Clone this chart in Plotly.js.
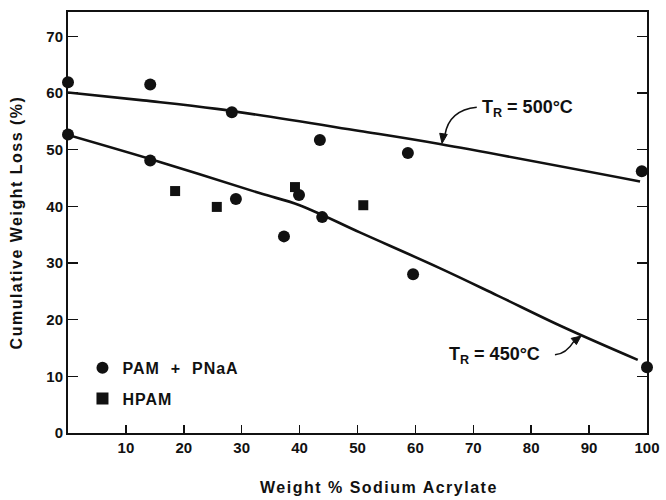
<!DOCTYPE html>
<html><head><meta charset="utf-8">
<script src="https://cdn.plot.ly/plotly-3.0.1.min.js"></script>
<style>html,body{margin:0;padding:0;background:#fff}#c{width:666px;height:500px}
.ytitle{letter-spacing:1.5px}
.legendtext{letter-spacing:1px}
</style>
</head><body><div id="c"></div>
<script>
// PAM + PNaA (circles)
const pamX = [0, 0, 14.2, 14.2, 28.3, 29, 37.3, 39.9, 43.5, 43.9, 58.7, 59.6, 99.1, 100];
const pamY = [61.9, 52.7, 61.5, 48.1, 56.6, 41.3, 34.7, 42.0, 51.7, 38.1, 49.4, 28.0, 46.2, 11.6];
// HPAM (squares)
const hpamX = [18.5, 25.7, 39.2, 51.0];
const hpamY = [42.7, 39.9, 43.4, 40.2];
// Fitted curves
const line500X = [0, 13, 25.7, 50.4, 64.2, 98.8];
const line500Y = [60.1, 58.7, 57.2, 53.3, 51.0, 44.4];
const line450X = [0, 16, 33.2, 40, 50.4, 64.2, 74.1, 85.5, 98.4];
const line450Y = [52.6, 47.8, 42.3, 40.2, 35.4, 29.1, 24.3, 18.7, 12.9];
const xTicks = [10, 20, 30, 40, 50, 60, 70, 80, 90, 100];
const yTicks = [0, 10, 20, 30, 40, 50, 60, 70];
const yRange = [0, 74.3];

const F = "'Liberation Sans', Arial, sans-serif";
const traces = [
  {x: line500X, y: line500Y, yaxis: 'y2', mode: 'lines', line: {color: '#111', width: 2.6, shape: 'spline', smoothing: 1}, showlegend: false, hoverinfo: 'skip'},
  {x: line450X, y: line450Y, yaxis: 'y2', mode: 'lines', line: {color: '#111', width: 2.6, shape: 'spline', smoothing: 1}, showlegend: false, hoverinfo: 'skip'},
  {x: pamX, y: pamY, mode: 'markers', name: 'PAM  +  PNaA', legendgroup: 'a', marker: {symbol: 'circle', size: 12, color: '#111'}, cliponaxis: false},
  {x: hpamX, y: hpamY, mode: 'markers', name: 'HPAM', legendgroup: 'b', marker: {symbol: 'square', size: 10, color: '#111'}, cliponaxis: false}
];
const layout = {
  width: 666, height: 500,
  margin: {l: 68, r: 19, t: 12, b: 67},
  paper_bgcolor: '#fff', plot_bgcolor: '#fff',
  font: {family: F, color: '#111', size: 14, weight: 'bold'},
  xaxis: {range: [0, 100], tickvals: xTicks, ticks: 'inside', ticklen: 8, tickwidth: 1.5, tickcolor: '#111',
    showline: true, linecolor: '#111', linewidth: 2, mirror: true, showgrid: false, zeroline: false,
    tickfont: {family: F, size: 15, weight: 'bold'}},
  yaxis: {range: yRange, tickvals: yTicks, ticks: '',
    showline: true, linecolor: '#111', linewidth: 2, mirror: true, showgrid: false, zeroline: false,
    tickfont: {family: F, size: 15, weight: 'bold'},
    title: {text: 'Cumulative Weight Loss (%)', font: {family: F, size: 16, weight: 'bold'}, standoff: 20}},
  yaxis2: {range: yRange, tickvals: yTicks, overlaying: 'y', side: 'left', ticks: 'inside', ticklen: 10, tickwidth: 1.5,
    tickcolor: '#111', showticklabels: false, showline: true, linecolor: '#111', linewidth: 2, mirror: 'ticks',
    showgrid: false, zeroline: false},
  showlegend: true,
  legend: {x: 0.025, y: 0.195, xanchor: 'left', yanchor: 'top', bgcolor: 'rgba(0,0,0,0)',
    font: {family: F, size: 16, weight: 'bold'}, itemsizing: 'constant', tracegroupgap: 7},
  shapes: [
    {type: 'path', xref: 'x', yref: 'y', path: 'M 70.6 57.5 Q 65.8 57.0 65.1 52.6', line: {color: '#111', width: 1.5}},
    {type: 'path', xref: 'x', yref: 'y', path: 'M 64.6 51.1 L 65.5 52.7 L 64.2 52.9 Z', fillcolor: '#111', line: {color: '#111', width: 1}},
    {type: 'path', xref: 'x', yref: 'y', path: 'M 84.1 13.8 Q 86.0 13.9 87.4 16.2', line: {color: '#111', width: 1.5}},
    {type: 'path', xref: 'x', yref: 'y', path: 'M 88.6 17.1 L 87.8 15.6 L 86.9 16.7 Z', fillcolor: '#111', line: {color: '#111', width: 1}}
  ],
  annotations: [
    {x: 71.2, y: 57.3, xref: 'x', yref: 'y', xanchor: 'left', yanchor: 'middle', showarrow: false,
     text: 'T<sub>R</sub> = 500°C', font: {family: F, size: 18, weight: 'bold'}},
    {x: 65.5, y: 13.6, xref: 'x', yref: 'y', xanchor: 'left', yanchor: 'middle', showarrow: false,
     text: 'T<sub>R</sub> = 450°C', font: {family: F, size: 18, weight: 'bold'}},
    {x: 0.537, y: 0, xref: 'paper', yref: 'paper', showarrow: false, xanchor: 'center', yanchor: 'middle',
     text: 'Weight % Sodium Acrylate', font: {family: F, size: 16, weight: 'bold'}}
  ]
};
// x-axis title placed as annotation (offset like the reference); convert pixel row to paper y
layout.annotations[2].y = (500 - layout.margin.b - 487) / (500 - layout.margin.t - layout.margin.b);
Plotly.newPlot('c', traces, layout, {displayModeBar: false, staticPlot: true}).then(() => {
  document.querySelectorAll('.annotation-text').forEach(t => {
    if (t.textContent.startsWith('Weight')) t.style.letterSpacing = '1.5px';
  });
});
</script></body></html>
